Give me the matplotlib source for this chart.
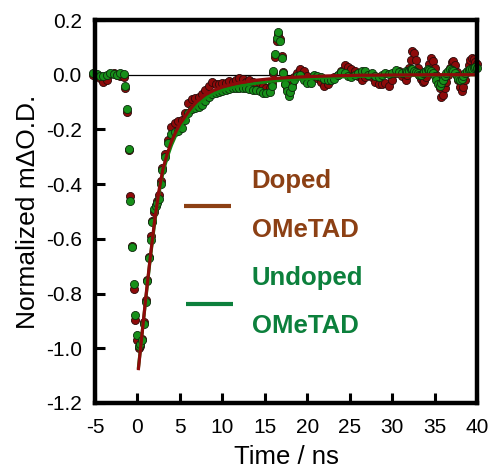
import matplotlib
matplotlib.use("Agg")
import matplotlib.pyplot as plt
import numpy as np

plt.rcParams['font.family'] = ['Liberation Sans', 'DejaVu Sans']

# ---- data (time in ns, normalized mΔO.D.) ----
t_pre = [-5.2, -4.8, -4.4, -4.0, -3.6, -3.2, -2.8, -2.4, -2.0, -1.6]
g_pre = [0.006, 0.002, -0.004, -0.006, 0.0, 0.008, 0.004, 0.0, 0.006, 0.003]
r_pre = [0.0, -0.006, -0.012, -0.025, -0.02, 0.004, 0.008, -0.002, -0.004, -0.01]

t_rise = [-1.45, -1.25, -1.05, -0.85, -0.65, -0.45, -0.25, -0.05, 0.15, 0.35, 0.55,
          0.75, 0.95, 1.15, 1.35, 1.55, 1.75, 1.95, 2.15, 2.35, 2.55, 2.75, 2.95]
g_rise = [-0.04, -0.125, -0.27, -0.46, -0.63, -0.765, -0.88, -0.95, -0.99, -0.985, -0.97,
          -0.91, -0.83, -0.755, -0.67, -0.605, -0.54, -0.49, -0.48, -0.47, -0.455, -0.40, -0.35]
r_rise = [-0.05, -0.135, -0.275, -0.445, -0.625, -0.785, -0.895, -0.97, -1.0, -0.99, -0.965,
          -0.905, -0.825, -0.75, -0.665, -0.59, -0.535, -0.50, -0.475, -0.46, -0.44, -0.39, -0.34]

t_dec = [3.2, 3.6, 4.0, 4.4, 4.8, 5.2, 5.6, 6.0, 6.4, 6.8, 7.2, 7.6, 8.0, 8.4, 8.8, 9.2,
         9.6, 10.0, 10.4, 10.8, 11.2, 11.6, 12.0, 12.4, 12.8, 13.2, 13.6, 14.0, 14.4, 14.8, 15.2]
g_dec = [-0.30, -0.25, -0.215, -0.21, -0.205, -0.195, -0.165, -0.14, -0.125, -0.12, -0.118,
         -0.11, -0.095, -0.08, -0.072, -0.067, -0.062, -0.058, -0.055, -0.052, -0.05, -0.049,
         -0.048, -0.05, -0.05, -0.052, -0.055, -0.055, -0.06, -0.067, -0.067]
r_dec = [-0.29, -0.24, -0.19, -0.175, -0.17, -0.165, -0.14, -0.105, -0.09, -0.085, -0.08,
         -0.07, -0.055, -0.04, -0.025, -0.035, -0.035, -0.03, -0.03, -0.022, -0.025, -0.018,
         -0.012, -0.016, -0.025, -0.02, -0.025, -0.03, -0.03, -0.04, -0.05]

t_spk = [15.6, 15.8, 16.0, 16.2, 16.4, 16.6, 16.8, 17.0, 17.2, 17.4, 17.6, 17.8, 18.0, 18.2, 18.4]
g_spk = [-0.065, -0.04, 0.012, 0.075, 0.135, 0.155, 0.125, 0.06, 0.005, -0.035, -0.06,
         -0.078, -0.065, -0.045, -0.02]
r_spk = [-0.05, -0.03, 0.005, 0.065, 0.125, 0.15, 0.13, 0.07, 0.01, -0.035, -0.05,
         -0.06, -0.05, -0.035, -0.01]

t_mid = [18.8, 19.2, 19.6, 20.0, 20.4, 20.8, 21.2, 21.6, 22.0, 22.4, 22.8, 23.2, 23.6, 24.0,
         24.4, 24.8, 25.2, 25.6, 26.0, 26.4, 26.8, 27.2, 27.6, 28.0, 28.4, 28.8, 29.2, 29.6,
         30.0, 30.4, 30.8, 31.2, 31.6]
g_mid = [-0.005, 0.0, -0.02, -0.03, -0.03, 0.0, -0.005, -0.01, -0.015, -0.02, -0.02, -0.015,
         0.0, 0.01, 0.008, -0.005, -0.01, 0.0, 0.005, 0.015, 0.012, 0.0, 0.005, -0.005, -0.01,
         0.0, 0.005, 0.002, 0.008, 0.018, 0.01, 0.005, 0.012]
r_mid = [0.005, 0.02, 0.015, -0.005, -0.015, -0.005, -0.012, -0.028, -0.04, -0.035, -0.02,
         -0.01, 0.0, 0.015, 0.035, 0.03, 0.02, 0.015, -0.005, -0.02, -0.008, 0.0, -0.01, -0.025,
         -0.035, -0.035, -0.03, -0.04, -0.02, 0.005, 0.015, -0.005, -0.02]

t_end = [31.8, 32.0, 32.2, 32.4, 32.6, 32.8, 33.0, 33.2, 33.4, 33.6, 33.8, 34.0, 34.2, 34.4,
         34.6, 34.8, 35.0, 35.2, 35.4, 35.6, 35.8, 36.0, 36.2, 36.4, 36.6, 36.8, 37.0, 37.2,
         37.4, 37.6, 37.8, 38.0, 38.2, 38.4, 38.6, 38.8, 39.0, 39.2, 39.4, 39.6, 39.8, 40.0]
g_end = [0.01, 0.015, 0.02, 0.02, 0.015, 0.01, 0.005, 0.0, 0.0, 0.005, 0.01, 0.015, 0.02,
         0.018, 0.012, 0.005, -0.005, -0.02, -0.035, -0.04, -0.03, -0.02, -0.005, 0.005, 0.015,
         0.02, 0.018, 0.012, 0.005, -0.005, -0.015, -0.02, -0.015, -0.005, 0.005, 0.012, 0.018,
         0.02, 0.022, 0.025, 0.03, 0.025]
r_end = [0.0, 0.025, 0.055, 0.085, 0.08, 0.055, 0.025, 0.0, -0.015, -0.025, -0.022, -0.01,
         0.015, 0.04, 0.06, 0.05, 0.025, 0.0, -0.025, -0.05, -0.08, -0.075, -0.05, -0.025, 0.0,
         0.025, 0.045, 0.05, 0.035, 0.01, -0.02, -0.045, -0.06, -0.045, -0.02, 0.01, 0.035,
         0.055, 0.062, 0.058, 0.045, 0.04]

time = t_pre + t_rise + t_dec + t_spk + t_mid + t_end
doped = r_pre + r_rise + r_dec + r_spk + r_mid + r_end
undoped = g_pre + g_rise + g_dec + g_spk + g_mid + g_end

# fitted curves
fit_t = [0.1, 0.5, 1.0, 1.5, 2.0, 2.5, 3.0, 3.5, 4.0, 4.5, 5.0, 5.5, 6.0, 6.5, 7.0, 8.0,
         9.0, 10.0, 11.0, 12.0, 13.0, 14.0, 15.0, 16.0, 18.0, 20.0, 23.0, 26.0, 30.0, 35.0, 40.0]
fit_doped = [-1.08, -0.96, -0.81, -0.67, -0.54, -0.43, -0.345, -0.29, -0.245, -0.21, -0.18,
             -0.158, -0.135, -0.115, -0.098, -0.073, -0.057, -0.045, -0.037, -0.03, -0.025,
             -0.02, -0.017, -0.014, -0.01, -0.007, -0.004, -0.002, -0.001, 0.0, 0.0]
fit_undoped = [-1.075, -0.96, -0.815, -0.675, -0.548, -0.44, -0.358, -0.303, -0.258, -0.223,
               -0.193, -0.17, -0.147, -0.127, -0.11, -0.085, -0.068, -0.056, -0.048, -0.041,
               -0.036, -0.031, -0.027, -0.023, -0.018, -0.014, -0.009, -0.006, -0.003, -0.001, 0.0]

red = '#8E0A0A'
green = '#17901A'
legend_brown = '#8C4014'
legend_green = '#0C803C'

fig = plt.figure(figsize=(4.9, 4.7), dpi=100)
ax = fig.add_axes([95/490, 1-403/470, 382/490, 383/470])

ax.axhline(0, color='black', lw=0.9, zorder=1)
ax.scatter(time, doped, s=34, c=red, edgecolors='#2a0a0a', linewidths=0.6, zorder=2, clip_on=False)
ax.scatter(time, undoped, s=34, c=green, edgecolors='#0d2a0d', linewidths=0.6, zorder=3, clip_on=False)
ax.plot(fit_t, fit_undoped, color='#118811', lw=2.3, zorder=4, solid_capstyle='butt')
ax.plot(fit_t, fit_doped, color='#8E0A0A', lw=2.3, zorder=5, solid_capstyle='butt')

# legend-like annotations
ax.plot([5.5, 11.0], [-0.481, -0.481], color=legend_brown, lw=3.0, solid_capstyle='butt', zorder=6)
ax.plot([5.7, 11.25], [-0.837, -0.837], color=legend_green, lw=3.0, solid_capstyle='butt', zorder=6)
ax.text(13.45, -0.39, 'Doped', color=legend_brown, fontsize=18.5, fontweight='bold', va='center', ha='left')
ax.text(13.45, -0.566, 'OMeTAD', color=legend_brown, fontsize=18.5, fontweight='bold', va='center', ha='left')
ax.text(13.45, -0.742, 'Undoped', color=legend_green, fontsize=18.5, fontweight='bold', va='center', ha='left')
ax.text(13.45, -0.92, 'OMeTAD', color=legend_green, fontsize=18.5, fontweight='bold', va='center', ha='left')

ax.set_xlim(-5, 40)
ax.set_ylim(-1.2, 0.2)
ax.set_xticks([-5, 0, 5, 10, 15, 20, 25, 30, 35, 40])
ax.set_yticks([-1.2, -1.0, -0.8, -0.6, -0.4, -0.2, 0.0, 0.2])
ax.set_yticklabels(['-1.2', '-1.0', '-0.8', '-0.6', '-0.4', '-0.2', '0.0', '0.2'])
ax.set_xticklabels(['-5', '0', '5', '10', '15', '20', '25', '30', '35', '40'])
ax.tick_params(direction='in', length=7.5, width=2.2, labelsize=15, pad=9.5,
               top=False, right=False)
ax.tick_params(axis='x', pad=10.5)
for sp in ax.spines.values():
    sp.set_linewidth(3.2)
    sp.set_zorder(10)

ax.set_xlabel('Time / ns', fontsize=18.5, labelpad=6)
ax.set_ylabel('Normalized m\u0394O.D.', fontsize=19, labelpad=4)

fig.savefig('out.png', dpi=100)
